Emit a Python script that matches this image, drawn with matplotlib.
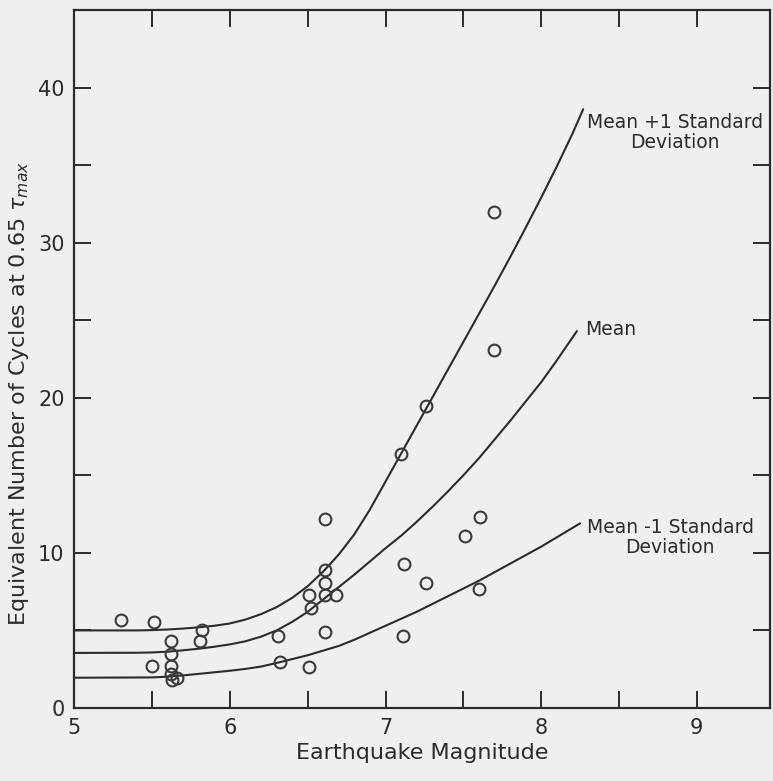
import numpy as np
import matplotlib
matplotlib.use("Agg")
import matplotlib.pyplot as plt

# observed data points (magnitude, equivalent cycles)
magnitude = [5.30, 5.51, 5.50, 5.62, 5.62, 5.62, 5.62, 5.63, 5.66, 5.82, 5.81,
             6.31, 6.32, 6.51, 6.51, 6.52, 6.61, 6.61, 6.61, 6.61, 6.68, 6.61,
             7.10, 7.12, 7.11, 7.26, 7.26, 7.51, 7.61, 7.60, 7.70, 7.70]
cycles = [5.7, 5.55, 2.7, 4.3, 3.5, 2.7, 2.2, 1.8, 1.95, 5.0, 4.3,
          4.65, 2.97, 2.65, 7.3, 6.45, 12.2, 8.9, 8.06, 7.3, 7.3, 4.9,
          16.4, 9.3, 4.65, 19.5, 8.06, 11.1, 12.3, 7.7, 32.0, 23.1]

# curves
upper_x = [5.0, 5.4, 5.5, 5.6, 5.7, 5.8, 5.9, 6.0, 6.1, 6.2, 6.3, 6.4, 6.5, 6.6,
           6.7, 6.8, 6.9, 7.0, 7.1, 7.2, 7.3, 7.4, 7.5, 7.6, 7.7, 7.8, 7.9,
           8.0, 8.1, 8.2, 8.27]
upper_y = [5.0, 5.0, 5.02, 5.06, 5.12, 5.2, 5.3, 5.45, 5.7, 6.05, 6.5, 7.1, 7.85,
           8.8, 9.9, 11.2, 12.8, 14.6, 16.4, 18.2, 20.0, 21.8, 23.6, 25.4, 27.2,
           29.05, 30.95, 32.9, 34.9, 37.0, 38.6]

mean_x = [5.0, 5.4, 5.5, 5.6, 5.7, 5.8, 5.9, 6.0, 6.1, 6.2, 6.3, 6.4, 6.5, 6.6,
          6.7, 6.8, 6.9, 7.0, 7.1, 7.2, 7.3, 7.4, 7.5, 7.6, 7.7, 7.8, 7.9,
          8.0, 8.1, 8.23]
mean_y = [3.55, 3.56, 3.58, 3.63, 3.72, 3.82, 3.95, 4.1, 4.3, 4.6, 5.0, 5.55,
          6.2, 7.0, 7.8, 8.6, 9.45, 10.3, 11.1, 12.0, 12.95, 13.95, 15.0, 16.1,
          17.3, 18.5, 19.75, 21.0, 22.4, 24.3]

lower_x = [5.0, 5.5, 5.6, 5.7, 5.8, 5.9, 6.0, 6.1, 6.2, 6.3, 6.4, 6.5, 6.6,
           6.7, 6.8, 6.9, 7.0, 7.1, 7.2, 7.3, 7.4, 7.5, 7.6, 7.7, 7.8, 7.9,
           8.0, 8.1, 8.25]
lower_y = [1.95, 1.97, 2.02, 2.1, 2.2, 2.3, 2.4, 2.52, 2.67, 2.9, 3.15, 3.4,
           3.7, 4.0, 4.4, 4.85, 5.3, 5.75, 6.2, 6.7, 7.2, 7.7, 8.2, 8.75, 9.3,
           9.85, 10.4, 11.0, 11.9]

x_ticks = [5, 6, 7, 8, 9]
y_ticks = [0, 10, 20, 30, 40]

bg = "#efefed"
ink = "#2b2b2b"

fig = plt.figure(figsize=(7.73, 7.81), dpi=100, facecolor=bg)
ax = fig.add_axes([0.0961, 0.0935, 0.8999, 0.8937])
ax.set_facecolor(bg)

for cx, cy in [(upper_x, upper_y), (mean_x, mean_y), (lower_x, lower_y)]:
    ax.plot(cx, cy, color=ink, lw=1.5, solid_capstyle="round", solid_joinstyle="round")

ax.plot(magnitude, cycles, linestyle="none", marker="o", ms=8.5,
        mfc="none", mec="#3a3a3a", mew=1.5)

ax.text(8.86, 37.1, "Mean +1 Standard\nDeviation", ha="center", va="center",
        fontsize=13.5, color=ink, linespacing=1.05)
ax.text(8.28, 24.4, "Mean", ha="left", va="center", fontsize=13.5, color=ink)
ax.text(8.83, 11.0, "Mean -1 Standard\nDeviation", ha="center", va="center",
        fontsize=13.5, color=ink, linespacing=1.05)

ax.set_xlim(5, 9.47)
ax.set_ylim(0, 45)
ax.set_xticks(x_ticks)
ax.set_xticks(np.arange(5.5, 9.4, 1.0), minor=True)
ax.set_yticks(y_ticks)
ax.set_yticks([5, 15, 25, 35], minor=True)
ax.tick_params(which="both", direction="in", top=True, right=True,
               length=12, width=1.4, color=ink, labelsize=15, labelcolor=ink, pad=7)
ax.tick_params(axis="y", which="both", labelright=False)
for s in ax.spines.values():
    s.set_linewidth(1.6)
    s.set_color(ink)

ax.set_xlabel("Earthquake Magnitude", fontsize=16, color=ink, labelpad=4)
ax.set_ylabel(r"Equivalent Number of Cycles at 0.65 $\tau_{max}$", fontsize=16,
              color=ink)
ax.yaxis.set_label_coords(-0.062, 0.45)

fig.savefig("out.png", dpi=100, facecolor=bg)
